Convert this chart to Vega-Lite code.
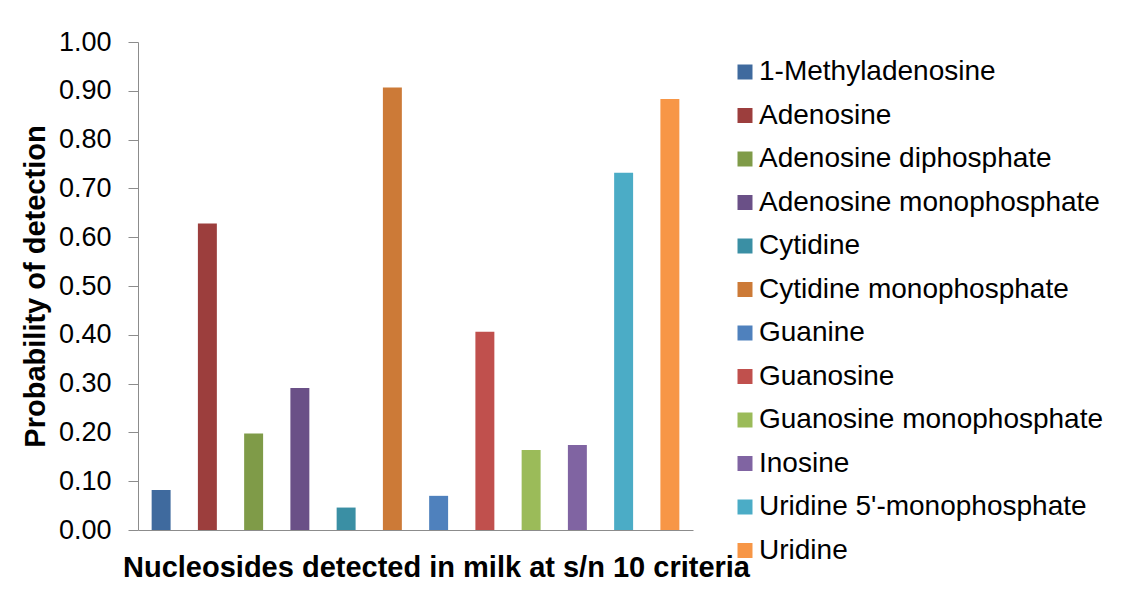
{
  "$schema": "https://vega.github.io/schema/vega-lite/v6.json",
  "width": 555,
  "height": 488,
  "autosize": "none",
  "padding": {"left": 138, "top": 42, "right": 438, "bottom": 68},
  "background": "white",
  "config": {
    "view": {"stroke": null},
    "font": "Liberation Sans"
  },
  "data": {
    "values": [
      {"name": "1-Methyladenosine", "p": 0.082},
      {"name": "Adenosine", "p": 0.628},
      {"name": "Adenosine diphosphate", "p": 0.198},
      {"name": "Adenosine monophosphate", "p": 0.291},
      {"name": "Cytidine", "p": 0.046},
      {"name": "Cytidine monophosphate", "p": 0.907},
      {"name": "Guanine", "p": 0.070},
      {"name": "Guanosine", "p": 0.406},
      {"name": "Guanosine monophosphate", "p": 0.164},
      {"name": "Inosine", "p": 0.174},
      {"name": "Uridine 5'-monophosphate", "p": 0.732},
      {"name": "Uridine", "p": 0.883}
    ]
  },
  "mark": {"type": "bar"},
  "encoding": {
    "x": {
      "field": "name",
      "type": "nominal",
      "sort": null,
      "scale": {"paddingInner": 0.59, "paddingOuter": 0.295},
      "axis": {
        "title": "Nucleosides detected in milk at s/n 10 criteria",
        "labels": false,
        "ticks": false,
        "domainColor": "#8c8c8c",
        "titleFont": "Liberation Sans",
        "titleFontSize": 29,
        "titleFontWeight": "bold",
        "titleColor": "#000000",
        "titlePadding": 23,
        "titleX": 298
      }
    },
    "y": {
      "field": "p",
      "type": "quantitative",
      "scale": {"domain": [0, 1], "nice": false},
      "axis": {
        "title": "Probability of detection",
        "values": [0, 0.1, 0.2, 0.3, 0.4, 0.5, 0.6, 0.7, 0.8, 0.9, 1.0],
        "format": ".2f",
        "grid": false,
        "domainColor": "#8c8c8c",
        "tickColor": "#8c8c8c",
        "tickSize": 10,
        "labelPadding": 17,
        "labelFont": "Liberation Sans",
        "labelFontSize": 27,
        "labelColor": "#000000",
        "titleFont": "Liberation Sans",
        "titleFontSize": 29,
        "titleFontWeight": "bold",
        "titleColor": "#000000",
        "titlePadding": 8
      }
    },
    "color": {
      "field": "name",
      "type": "nominal",
      "sort": null,
      "scale": {
        "domain": ["1-Methyladenosine", "Adenosine", "Adenosine diphosphate", "Adenosine monophosphate", "Cytidine", "Cytidine monophosphate", "Guanine", "Guanosine", "Guanosine monophosphate", "Inosine", "Uridine 5'-monophosphate", "Uridine"],
        "range": ["#3F6A9E", "#9C3E3D", "#7F9B48", "#6A5087", "#3A8FA4", "#CC7A37", "#4F81BD", "#C0504D", "#9BBB59", "#8064A2", "#4BACC6", "#F79646"]
      },
      "legend": {
        "title": null,
        "orient": "none",
        "legendX": 593,
        "legendY": 16,
        "padding": 0,
        "symbolType": "square",
        "symbolSize": 225,
        "symbolStrokeWidth": 0,
        "symbolOpacity": 1,
        "labelFont": "Liberation Sans",
        "labelFontSize": 28,
        "labelColor": "#000000",
        "labelOffset": 0,
        "labelLimit": 500,
        "rowPadding": 15.5
      }
    }
  }
}
